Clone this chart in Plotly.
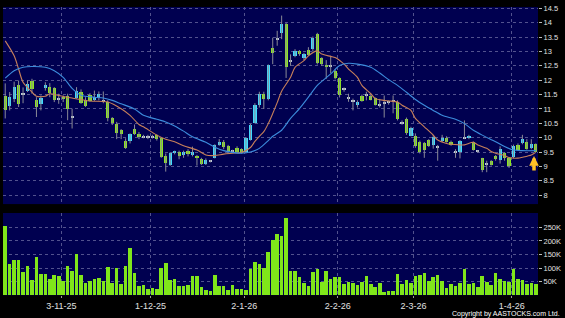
import plotly.graph_objects as go
import pandas as pd

# ---------------- data ----------------
hk_holidays = ["2025-10-29", "2025-12-25", "2025-12-26", "2026-01-01",
               "2026-02-17", "2026-02-18", "2026-02-19",
               "2026-04-03", "2026-04-06", "2026-04-07"]
dates = pd.bdate_range("2025-10-14", periods=120, freq="C", holidays=hk_holidays)
date_str = [d.strftime("%Y-%m-%d") for d in dates]

opens = [11.47, 11.10, 11.36, 11.82, 11.50, 11.64, 11.99, 11.33, 11.16, 11.72,
         11.76, 11.72, 11.36, 11.42, 11.47, 10.73, 11.39, 11.59, 11.33, 11.49,
         11.33, 11.38, 11.28, 11.24, 10.67, 10.49, 10.26, 9.89, 9.89, 10.30,
         10.13, 10.05, 10.03, 10.05, 10.09, 9.98, 9.37, 9.06, 9.47, 9.52,
         9.40, 9.54, 9.40, 9.38, 9.26, 9.10, 9.17, 9.31, 9.75, 9.84,
         9.72, 9.55, 9.66, 9.60, 9.49, 9.92, 10.53, 11.13, 11.53, 11.36,
         13.14, 13.42, 13.66, 13.97, 12.66, 12.85, 13.02, 12.77, 13.06, 13.08,
         13.60, 12.77, 12.53, 12.50, 12.31, 12.07, 11.68, 11.40, 11.28, 11.13,
         11.47, 11.48, 11.47, 11.38, 11.16, 11.21, 11.23, 11.27, 11.26, 10.53,
         10.64, 10.07, 10.07, 9.86, 9.80, 9.92, 9.75, 9.70, 9.89, 10.00,
         9.86, 9.52, 9.52, 9.97, 9.98, 9.84, 9.53, 9.29, 9.10, 9.20,
         9.38, 9.23, 9.46, 9.29, 9.34, 9.75, 9.80, 9.84, 9.66, 9.77]
highs = [11.89, 11.59, 11.95, 11.99, 11.75, 11.99, 12.05, 11.41, 11.47, 11.93,
         11.90, 11.76, 11.53, 11.47, 11.53, 11.01, 11.76, 11.68, 11.41, 11.55,
         11.64, 11.61, 11.61, 11.30, 10.72, 10.55, 10.30, 9.98, 10.15, 10.46,
         10.20, 10.10, 10.10, 10.10, 10.12, 10.00, 9.45, 9.50, 9.55, 9.55,
         9.55, 9.60, 9.69, 9.40, 9.30, 9.28, 9.22, 9.77, 9.95, 9.92,
         9.75, 9.58, 9.70, 9.63, 10.02, 10.48, 11.20, 11.60, 11.60, 12.55,
         13.48, 13.72, 14.25, 14.00, 12.90, 13.08, 13.05, 12.95, 13.15, 13.52,
         13.65, 12.80, 12.70, 12.85, 12.38, 12.10, 11.75, 11.53, 11.36, 11.30,
         11.50, 11.60, 11.50, 11.40, 11.35, 11.47, 11.30, 11.47, 11.30, 10.60,
         10.70, 10.38, 10.15, 9.90, 9.85, 9.95, 10.10, 9.75, 10.10, 10.05,
         9.90, 9.60, 9.92, 10.60, 10.10, 9.87, 9.56, 9.30, 9.20, 9.22,
         9.40, 9.70, 9.50, 9.32, 9.76, 9.80, 10.10, 9.95, 9.95, 9.80]
lows = [10.67, 10.95, 11.24, 11.07, 11.20, 11.59, 11.53, 10.72, 10.95, 11.64,
        11.41, 11.24, 11.18, 11.24, 10.61, 10.32, 11.36, 11.18, 11.07, 11.25,
        11.28, 11.30, 11.20, 10.57, 10.44, 9.95, 9.95, 9.61, 9.80, 10.10,
        9.95, 9.98, 9.95, 9.97, 9.90, 9.30, 8.82, 9.02, 9.42, 9.25,
        9.30, 9.35, 9.35, 9.03, 9.05, 9.05, 9.14, 9.28, 9.72, 9.60,
        9.45, 9.50, 9.47, 9.45, 9.46, 9.90, 10.50, 11.05, 11.00, 11.30,
        12.56, 13.20, 13.43, 12.08, 12.50, 12.80, 12.85, 12.70, 12.85, 13.00,
        12.55, 12.50, 12.05, 12.25, 12.03, 11.40, 11.60, 11.25, 10.95, 11.05,
        11.25, 11.30, 11.30, 11.12, 11.05, 10.70, 11.15, 10.85, 10.60, 10.45,
        10.10, 10.05, 9.65, 9.45, 9.30, 9.68, 9.62, 9.20, 9.85, 9.83,
        9.72, 9.30, 9.28, 9.95, 9.95, 9.55, 9.48, 8.80, 8.80, 9.03,
        9.20, 9.10, 9.20, 8.95, 9.28, 9.55, 9.77, 9.58, 9.60, 9.50]
closes = [10.95, 11.41, 11.78, 11.18, 11.53, 11.87, 11.68, 11.07, 11.39, 11.85,
          11.56, 11.32, 11.34, 11.36, 10.99, 10.74, 11.61, 11.22, 11.10, 11.28,
          11.43, 11.51, 11.26, 10.67, 10.52, 10.15, 10.13, 9.63, 10.13, 10.13,
          10.01, 10.02, 10.05, 10.03, 9.95, 9.34, 9.11, 9.46, 9.52, 9.38,
          9.49, 9.43, 9.49, 9.29, 9.08, 9.24, 9.20, 9.75, 9.86, 9.67,
          9.49, 9.54, 9.50, 9.46, 9.98, 10.44, 11.13, 11.53, 11.36, 12.53,
          12.94, 13.44, 13.97, 12.45, 12.68, 13.02, 12.91, 12.91, 12.89, 13.48,
          12.60, 12.56, 12.45, 12.51, 12.07, 11.50, 11.70, 11.39, 11.27, 11.26,
          11.28, 11.47, 11.33, 11.15, 11.15, 11.22, 11.24, 11.26, 10.64, 10.52,
          10.15, 10.34, 9.72, 9.52, 9.57, 9.72, 10.03, 9.69, 9.98, 9.86,
          9.75, 9.51, 9.88, 9.98, 10.07, 9.57, 9.52, 8.89, 9.09, 9.06,
          9.26, 9.60, 9.29, 9.00, 9.72, 9.57, 9.95, 9.61, 9.77, 9.52]
volume_k = [255, 116, 128, 128, 85, 109, 55, 140, 79, 79,
            58, 75, 69, 51, 107, 89, 152, 73, 46, 52,
            61, 65, 52, 103, 45, 100, 43, 109, 174, 83,
            35, 36, 22, 28, 22, 100, 118, 55, 61, 34,
            34, 36, 72, 71, 30, 21, 17, 73, 35, 34,
            21, 36, 24, 22, 21, 95, 122, 116, 100, 161,
            204, 225, 219, 286, 91, 91, 67, 45, 34, 87,
            97, 49, 88, 58, 67, 66, 40, 49, 45, 36,
            47, 69, 42, 31, 45, 13, 17, 15, 79, 41,
            55, 45, 71, 75, 83, 51, 66, 74, 51, 27,
            41, 34, 46, 97, 40, 46, 32, 69, 49, 38,
            83, 58, 51, 49, 97, 61, 56, 41, 44, 43]

# moving averages (bar index, value)
ma10_idx = [0, 2, 3, 4, 6, 7, 9, 10, 12, 15, 19, 23, 26, 28, 30, 31, 34, 36, 38, 40,
            43, 45, 47, 49, 51, 53, 55, 56, 57, 58, 59, 60, 61, 62, 64, 65, 67, 68, 70, 71,
            73, 74, 76, 77, 79, 80, 82, 83, 85, 86, 88, 89, 91, 92, 94, 96, 97, 99, 100, 102,
            103, 105, 106, 108, 109, 110, 112, 113, 115, 116, 118, 119]
ma10_val = [13.37, 12.85, 12.39, 11.93, 11.59, 11.44, 11.44, 11.53, 11.47, 11.38, 11.28, 11.24, 11.01, 10.78, 10.46, 10.38, 10.09, 9.95, 9.86, 9.72,
            9.57, 9.40, 9.38, 9.43, 9.46, 9.49, 9.66, 9.87, 10.05, 10.21, 10.49, 10.84, 11.22, 11.62, 12.10, 12.45, 12.68, 12.85, 13.02, 12.91,
            12.83, 12.79, 12.56, 12.39, 12.10, 11.82, 11.53, 11.36, 11.30, 11.28, 11.24, 11.13, 10.95, 10.67, 10.38, 10.09, 9.92, 9.80, 9.77, 9.75,
            9.75, 9.84, 9.75, 9.63, 9.52, 9.46, 9.38, 9.31, 9.29, 9.32, 9.40, 9.49]
ma20_idx = [0, 2, 4, 6, 9, 11, 13, 15, 17, 20, 22, 24, 26, 29, 31, 34, 36, 38, 40, 42,
            45, 47, 49, 51, 53, 55, 57, 59, 60, 62, 64, 66, 68, 70, 73, 75, 77, 79, 82, 84,
            86, 88, 90, 92, 94, 96, 98, 101, 103, 105, 107, 110, 112, 114, 116, 119]
ma20_val = [12.07, 12.33, 12.45, 12.48, 12.45, 12.33, 12.10, 11.72, 11.48, 11.41, 11.38, 11.30, 11.18, 11.00, 10.78, 10.64, 10.55, 10.41, 10.23, 10.03,
            9.84, 9.67, 9.55, 9.49, 9.46, 9.50, 9.63, 9.90, 10.05, 10.26, 10.67, 11.01, 11.41, 11.82, 12.22, 12.51, 12.59, 12.56, 12.45, 12.25,
            12.02, 11.82, 11.58, 11.33, 11.13, 10.95, 10.78, 10.64, 10.49, 10.26, 10.09, 9.86, 9.69, 9.57, 9.55, 9.55]

tick_dates = ["2025-11-03", "2025-12-01", "2026-01-02", "2026-02-02", "2026-03-02", "2026-04-01"]
tick_text = ["3-11-25", "1-12-25", "2-1-26", "2-2-26", "2-3-26", "1-4-26"]
vol_ticks = [50, 100, 150, 200, 250]
vol_tick_text = ["50K", "100K", "150K", "200K", "250K"]

# ---------------- styling ----------------
BG = "#000000"
PANEL = "#000050"
GRID = "#52528e"
UP = "#40dcff"
DOWN = "#8ce61e"
DOJI = "#c0ccd8"
WICK = "#8a8a96"
VOLC = "#80e61a"
LBL = "#e0e0e0"
FONT = "Liberation Sans"

n = len(closes)
xs = list(range(n))

# wicks
wx, wy = [], []
for i in xs:
    wx += [i, i, None]
    wy += [lows[i], highs[i], None]

# bodies
base, height, colors = [], [], []
for o, c in zip(opens, closes):
    lo, hi = min(o, c), max(o, c)
    if hi - lo < 0.035:
        mid = (hi + lo) / 2
        lo, hi = mid - 0.018, mid + 0.018
        colors.append(DOJI)
    else:
        colors.append(UP if c > o else DOWN)
    base.append(lo)
    height.append(hi - lo)

tick_pos = [date_str.index(d) - 0.4 for d in tick_dates]

fig = go.Figure()
fig.add_trace(go.Scatter(x=wx, y=wy, mode="lines", line=dict(color=WICK, width=1),
                         hoverinfo="skip", xaxis="x", yaxis="y"))
fig.add_trace(go.Bar(x=xs, y=height, base=base, marker=dict(color=colors, line=dict(width=0)),
                     width=0.72, hovertext=date_str, xaxis="x", yaxis="y"))
fig.add_trace(go.Scatter(x=ma10_idx, y=ma10_val, mode="lines",
                         line=dict(color="#c8805a", width=1.1, shape="spline", smoothing=0.8),
                         xaxis="x", yaxis="y"))
fig.add_trace(go.Scatter(x=ma20_idx, y=ma20_val, mode="lines",
                         line=dict(color="#3c8cdc", width=1.1, shape="spline", smoothing=0.8),
                         xaxis="x", yaxis="y"))
fig.add_trace(go.Bar(x=xs, y=[v * 1000 for v in volume_k], marker=dict(color=VOLC, line=dict(width=0)),
                     width=0.8, hovertext=date_str, xaxis="x2", yaxis="y2"))

W, H = 565, 318
xdom = [3 / W, 538 / W]
xrange_ = [-0.5, 119.5]

fig.update_layout(
    width=W, height=H, margin=dict(l=0, r=0, t=0, b=0),
    paper_bgcolor=BG, plot_bgcolor=PANEL, showlegend=False,
    font=dict(family=FONT, color=LBL),
    xaxis=dict(domain=xdom, range=xrange_, anchor="y", tickvals=tick_pos,
               showticklabels=False, ticks="", showgrid=True, gridcolor=GRID,
               griddash="dot", gridwidth=1, zeroline=False, fixedrange=True),
    xaxis2=dict(domain=xdom, range=xrange_, anchor="y2", tickvals=tick_pos, ticktext=tick_text,
                ticks="outside", ticklen=2, tickcolor="#9a9a9a", tickfont=dict(size=9, color=LBL, family=FONT),
                showgrid=True, gridcolor=GRID, griddash="dot", gridwidth=1, zeroline=False),
    yaxis=dict(domain=[(H - 203) / H, (H - 4) / H], range=[7.69, 14.55], anchor="x", side="right",
               tick0=8, dtick=0.5, ticks="outside", ticklen=3, tickcolor="#bbbbbb",
               tickfont=dict(size=7.5, color=LBL, family=FONT),
               showgrid=True, gridcolor=GRID, griddash="dot", gridwidth=1, zeroline=False),
    yaxis2=dict(domain=[(H - 295) / H, (H - 212) / H], range=[0, 303000], anchor="x2", side="right",
                tickvals=[v * 1000 for v in vol_ticks], ticktext=vol_tick_text,
                ticks="outside", ticklen=3, tickcolor="#bbbbbb",
                tickfont=dict(size=7.5, color=LBL, family=FONT),
                showgrid=True, gridcolor=GRID, griddash="dot", gridwidth=1, zeroline=False),
    bargap=0,
)

fig.add_annotation(x=n - 1.4, y=9.36, xref="x", yref="y", text="", showarrow=True,
                   ax=0, ay=16, arrowhead=2, arrowsize=0.55, arrowwidth=3.5,
                   arrowcolor="#ffc125", standoff=0)
fig.add_annotation(x=562 / W, y=(H - 314) / H, xref="paper", yref="paper",
                   text="Copyright by AASTOCKS.com Ltd.", showarrow=False,
                   xanchor="right", yanchor="middle",
                   font=dict(size=7, color="#ffffff", family=FONT))

fig.write_html("out.html")
